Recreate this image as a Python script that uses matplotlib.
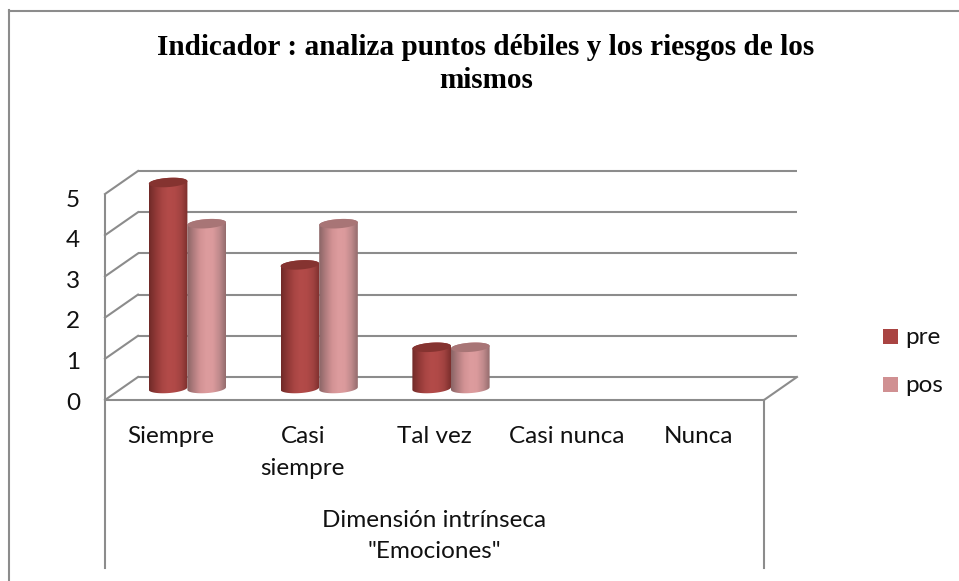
import numpy as np
import matplotlib
matplotlib.use("Agg")
import matplotlib.pyplot as plt
from matplotlib.path import Path
from matplotlib.patches import PathPatch, Rectangle
from matplotlib.transforms import Affine2D
from matplotlib.colors import LinearSegmentedColormap

title = "Indicador : analiza puntos débiles y los riesgos de los\nmismos"
categories = ["Siempre", "Casi\nsiempre", "Tal vez", "Casi nunca", "Nunca"]
group_label = "Dimensión intrínseca\n\"Emociones\""
pre = [5, 3, 1, 0, 0]
pos = [4, 4, 1, 0, 0]
y_ticks = [0, 1, 2, 3, 4, 5]
series_names = ["pre", "pos"]
series_colors = ["#A94442", "#D09092"]

W, H = 959, 581
fig = plt.figure(figsize=(W / 100, H / 100), dpi=100, facecolor="white")

def px_axes(x0, x1, ytop, ybot):
    return [x0 / W, 1 - ybot / H, (x1 - x0) / W, (ybot - ytop) / H]

# Main axes: the plane through the middle of the 3D depth
DX, DY = 16.5, 11.5
FX0, FX1, FY0, UNIT = 105, 764, 400, 41.2
ax = fig.add_axes(px_axes(FX0 + DX, FX1 + DX, FY0 - DY - 5 * UNIT, FY0 - DY))
ax.set_axis_off()
ax.set_xlim(0, 5)
ax.set_ylim(0, 5)

GRID = "#8c8c8c"
LW = 1.5
TXT = "#111111"
FS = 17.5
front = ax.transData + Affine2D().translate(-DX, -DY)
back = ax.transData + Affine2D().translate(DX, DY)

def seg(x, y, tr):
    ax.plot(x, y, transform=tr, color=GRID, lw=LW, solid_capstyle="butt", clip_on=False, zorder=1)

def depth(xv, v):
    p0 = front.transform((xv, v))
    p1 = back.transform((xv, v))
    ax.plot([p0[0], p1[0]], [p0[1], p1[1]], transform=None, color=GRID, lw=LW, clip_on=False, zorder=1)

for v in y_ticks:
    seg([0, 5], [v, v], back)
    depth(0, v)
    ax.text(0, v * 0.985, str(v), transform=front + Affine2D().translate(-25, -3), ha="right", va="center",
            family="Lato", fontsize=FS, color=TXT)

# Floor: front edge, right depth edge, left wall edge
seg([0, 5], [0, 0], front)
depth(5, 0)
seg([0, 0], [0, 5], front)

bar_w = 0.293
ry = 4.6 / UNIT
tilt = 1.3 / UNIT

cm_pre = LinearSegmentedColormap.from_list(
    "p", ["#702a28", "#8f3836", "#a84543", "#b34b49", "#b04947", "#a04240", "#7c2f2d"])
cm_pos = LinearSegmentedColormap.from_list(
    "q", ["#8a6465", "#b07c7e", "#d29294", "#dd9c9e", "#db9a9c", "#c08a8c", "#946c6d"])
grad = np.linspace(0, 1, 128).reshape(1, -1)

def ellipse_pts(xc, yc, t0, t1, n=40):
    t = np.linspace(t0, t1, n)
    return np.c_[xc + bar_w / 2 * np.cos(t), yc + ry * np.sin(t) + tilt * np.cos(t)]

def cylinder(xc, v, cmap, top, z):
    if v <= 0:
        return
    lower = ellipse_pts(xc, 0, np.pi, 2 * np.pi)
    upper = ellipse_pts(xc, v, 0, np.pi)
    body = np.vstack([lower, upper, lower[:1]])
    clip = PathPatch(Path(body), transform=ax.transData, fc="none", ec="none", clip_on=False)
    ax.add_patch(clip)
    im = ax.imshow(grad, extent=(xc - bar_w / 2, xc + bar_w / 2, -0.3, v + 0.3),
                   cmap=cmap, aspect="auto", zorder=z, interpolation="bilinear")
    im.set_clip_path(clip)
    im.set_clip_box(fig.bbox)
    cap = ellipse_pts(xc, v, 0, 2 * np.pi, 60)
    ax.fill(cap[:, 0], cap[:, 1], color=top, lw=0, zorder=z + 0.1, clip_on=False)

for i, (a, b) in enumerate(zip(pre, pos)):
    xc = i + 0.5
    cylinder(xc - bar_w / 2, a, cm_pre, "#853330", 3)
    cylinder(xc + bar_w / 2, b, cm_pos, "#a87576", 4)
ax.set_xlim(0, 5)
ax.set_ylim(0, 5)

# Text blocks: each line is placed on its own baseline
def lines_at(x, text, first_drop, step):
    for k, line in enumerate(text.split("\n")):
        ax.text(x, 0, line, transform=front + Affine2D().translate(0, -(first_drop + k * step)),
                ha="center", va="baseline", family="Lato", fontsize=FS, color=TXT)

for i, c in enumerate(categories):
    lines_at(i + 0.5, c, 43, 32)
lines_at(2.5, group_label, 127, 31)

for xv in (0, 5):
    p0 = front.transform((xv, 0))
    ax.plot([p0[0], p0[0]], [p0[1], p0[1] - 168], transform=None, color=GRID, lw=LW, clip_on=False, zorder=1)

# Chart frame (top and left)
fig.add_artist(plt.Line2D([9 / W, 9 / W], [1 - 10 / H, 0], color=GRID, lw=1.5))
fig.add_artist(plt.Line2D([9 / W, 1], [1 - 10.5 / H, 1 - 10.5 / H], color=GRID, lw=1.5))

for line, yb in zip(title.split("\n"), (55, 88)):
    fig.text(486 / W, 1 - yb / H, line, family="Liberation Serif", fontweight="bold", fontsize=21.1,
             ha="center", va="baseline", color="#000000")

# Legend
for name, col, yb in zip(series_names, series_colors, (344, 392)):
    fig.add_artist(Rectangle((883 / W, 1 - yb / H), 15 / W, 15 / H, fc=col, ec="none",
                             transform=fig.transFigure))
    fig.text(905 / W, 1 - yb / H, name, family="Lato", fontsize=FS, ha="left", va="baseline", color=TXT)

fig.savefig("out.png", dpi=100)
